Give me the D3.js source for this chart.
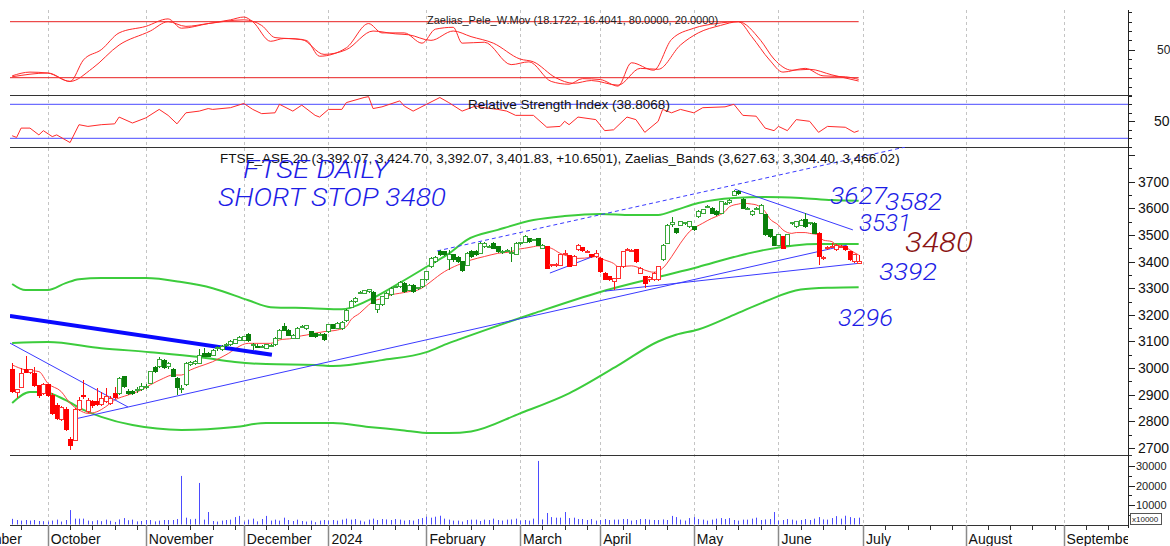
<!DOCTYPE html>
<html>
<head>
<meta charset="utf-8">
<script src="https://cdn.jsdelivr.net/npm/d3@7"></script>
<style>
  body { margin: 0; background: #fff; }
  svg { display: block; font-family: "Liberation Sans", Arial, sans-serif; }
</style>
</head>
<body>
<svg id="chart" width="1170" height="546"></svg>
<script>
// daily candles, [open, high, low, close], index 0 = first trading day shown
var ohlc = [
  [2995,3018,2905,2914],[2909,2920,2886,2920],[2928,2999,2925,2980],[2995,3045,2980,2983],[2983,2998,2978,2993],
  [2980,3005,2928,2933],[2933,2935,2886,2899],[2905,2945,2900,2939],[2937,2940,2893,2899],[2899,2905,2825,2830],
  [2861,2868,2805,2811],[2808,2858,2800,2851],[2846,2855,2765,2770],[2733,2740,2693,2711],[2730,2850,2725,2843],
  [2843,2890,2838,2880],[2899,2955,2885,2893],[2836,2888,2830,2880],[2876,2880,2850,2858],[2876,2924,2858,2862],
  [2862,2912,2858,2886],[2874,2924,2870,2893],[2868,2895,2862,2886],[2903,2930,2885,2890],[2903,2965,2900,2962],
  [2968,2972,2925,2930],[2911,2920,2900,2905],[2914,2918,2898,2903],[2916,2930,2905,2920],[2918,2943,2915,2930],
  [2928,2940,2922,2932],[2943,2990,2940,2987],[3003,3008,2982,2987],[3005,3040,3000,3033],[3028,3035,2998,3003],
  [3005,3022,2998,3018],[2995,3000,2965,2970],[2962,2965,2899,2928],[2920,2935,2905,2925],[2937,3022,2933,3018],
  [3013,3025,3008,3020],[3018,3030,3012,3024],[3018,3070,3015,3049],[3055,3075,3040,3045],[3055,3060,3040,3043],
  [3049,3072,3045,3068],
  [3072,3082,3066,3076],[3070,3085,3066,3080],[3086,3095,3080,3088],[3087,3104,3084,3099],[3093,3110,3090,3106],
  [3103,3120,3100,3116],[3103,3122,3100,3118],[3128,3130,3098,3103],[3086,3093,3068,3087],[3083,3090,3075,3081],
  [3080,3088,3076,3082],[3074,3090,3070,3087],[3083,3092,3078,3085],[3087,3115,3084,3112],[3112,3146,3108,3143],
  [3156,3168,3140,3143],[3143,3148,3120,3124],[3112,3128,3108,3124],[3112,3155,3108,3150],[3155,3162,3150,3157],
  [3147,3163,3143,3159],[3137,3140,3115,3120],[3130,3133,3114,3118],[3126,3132,3122,3128],[3127,3130,3102,3106],
  [3137,3166,3133,3162],[3162,3166,3145,3149],[3149,3172,3145,3168],[3147,3176,3143,3172],[3178,3222,3175,3218],
  [3228,3254,3224,3250],[3250,3266,3246,3262],[3282,3288,3278,3284],[3281,3295,3278,3291],[3286,3298,3282,3294],
  [3283,3290,3240,3243],[3221,3240,3206,3237],[3237,3272,3233,3268],[3262,3285,3258,3281],[3275,3304,3271,3300],
  [3303,3310,3300,3306],[3306,3326,3302,3322],[3318,3322,3283,3287],[3293,3316,3289,3312],[3312,3316,3283,3287],
  [3298,3306,3294,3302],[3306,3335,3302,3331],[3331,3366,3327,3362],
  [3381,3418,3375,3412],[3400,3420,3395,3416],[3437,3445,3420,3425],[3437,3440,3420,3425],[3406,3444,3368,3425],
  [3425,3430,3400,3406],[3416,3420,3395,3400],[3400,3404,3362,3368],[3387,3435,3383,3431],[3437,3442,3415,3419],
  [3437,3442,3420,3425],[3431,3473,3427,3469],[3456,3473,3452,3469],[3455,3462,3450,3458],[3469,3473,3446,3450],
  [3456,3460,3433,3437],[3436,3444,3430,3438],[3440,3448,3435,3442],[3433,3456,3400,3435],[3428,3473,3424,3469],
  [3468,3474,3464,3470],[3471,3500,3468,3496],[3487,3490,3471,3475],[3480,3486,3476,3482],[3487,3490,3458,3462],
  [3450,3466,3446,3462],[3456,3460,3371,3375],[3386,3392,3380,3388],[3385,3395,3380,3390],[3387,3430,3383,3425],
  [3430,3445,3426,3432],[3421,3425,3379,3383],[3387,3423,3383,3419],[3444,3466,3440,3462],[3452,3456,3437,3441],
  [3436,3442,3432,3438],[3425,3428,3415,3419],[3419,3444,3415,3431],[3412,3416,3358,3362],[3356,3360,3329,3333],
  [3343,3346,3327,3331],[3325,3338,3293,3335],[3337,3385,3333,3381],[3381,3441,3377,3437],[3444,3452,3440,3447],
  [3440,3447,3436,3442],[3444,3448,3396,3400],[3356,3379,3352,3375],
  [3343,3347,3300,3318],[3331,3345,3325,3340],[3331,3360,3327,3356],[3331,3385,3327,3381],[3406,3466,3402,3462],
  [3469,3541,3465,3537],[3540,3569,3531,3545],[3525,3528,3504,3508],[3537,3554,3533,3550],[3543,3550,3538,3545],
  [3531,3554,3527,3550],[3531,3535,3515,3519],[3569,3592,3565,3588],[3581,3598,3577,3594],[3605,3612,3600,3607],
  [3600,3604,3577,3581],[3588,3592,3571,3575],[3581,3629,3577,3625],[3617,3625,3612,3620],[3621,3635,3617,3631],
  [3650,3668,3646,3662],[3665,3670,3650,3654],[3634,3637,3596,3600],[3598,3606,3592,3601],[3575,3592,3571,3588],
  [3599,3606,3594,3601],[3581,3616,3577,3612],[3575,3578,3496,3500],[3519,3522,3490,3494],[3494,3497,3458,3462],
  [3462,3504,3458,3500],[3494,3497,3446,3450],[3462,3504,3458,3500],[3543,3550,3538,3546],[3531,3554,3527,3550],
  [3537,3560,3533,3556],[3558,3581,3527,3531],[3543,3550,3538,3545],[3544,3548,3502,3506],[3506,3510,3387,3418],
  [3410,3420,3405,3414],[3448,3458,3443,3452],[3455,3470,3450,3458],[3444,3466,3440,3462],[3455,3463,3450,3458],
  [3456,3460,3440,3444],[3437,3440,3402,3406],[3400,3428,3396,3425],[3392.07,3424.70,3392.07,3401.83]
];

// stretches of candles drawn in red (signal below), the rest are green
var redRuns = [[0, 23], [120, 145], [173, 173], [181, 190]];

// volume, in the panel's units (axis labelled x10000)
var volume = [
  2900,2300,2000,2300,2000,2300,1800,1700,
  1500,2000,2500,1500,2300,7400,3000,3000,3000,2000,1700,2200,1700,2500,1900,1300,2600,3300,2200,2500,1600,1800,
  2300,2300,1600,2000,2300,2300,2300,2800,24900,3500,2700,2900,21300,2500,6400,1800,1500,2000,2300,2500,3800,4400,
  1500,2500,3000,1600,2800,4400,2000,2500,2000,3500,2300,1800,2500,1800,1500,2000,1200,2000,2300,
  2000,2300,2000,2500,3000,2500,2800,2000,1500,2500,3000,2300,2800,2600,2300,2800,2500,2000,2300,2000,2800,3300,
  4000,3500,4000,4500,3000,2500,2000,2000,1500,2300,2500,2500,1800,2500,2300,3000,2300,2000,2500,2600,3000,
  2000,2300,2000,3000,32600,2600,5900,3800,3500,3500,6400,3300,3500,2800,2800,2300,2800,2000,
  2300,2800,2300,2500,2500,2800,2800,2000,2300,2800,2800,2500,2300,2300,2600,2300,4400,3800,2500,2000,3300,
  3800,2800,2500,2000,2500,3000,3300,2800,3300,2300,2000,2500,2500,3000,3500,2300,2600,2800,6400,
  2000,2300,2800,2500,2000,2300,2800,2300,3000,3800,2600,2500,3300,4300,3000,4500,3800,3300,3500
];

// red moving average on price, [index, value]
var maLine = [
  [0,3012],[3,2993],[6,2987],[8,2943],[11,2912],[13,2868],[15,2843],[17,2830],[19,2836],[21,2855],[23,2880],
  [26,2899],[29,2918],[31,2937],[34,2962],[36,2974],[38,2974],[40,2993],[42,3006],[45,3024],[48,3050],[53,3093],
  [58,3093],[60,3106],[63,3112],[64,3118],[66,3124],[68,3131],[70,3137],[73,3143],[75,3156],[76,3181],[78,3206],
  [80,3237],[81,3250],[83,3262],[85,3275],[87,3281],[89,3287],[91,3293],[93,3312],[94,3325],[97,3362],[100,3387],
  [103,3406],[106,3419],[109,3431],[112,3437],[113,3444],[115,3450],[117,3456],[118,3459],[121,3450],[123,3431],
  [125,3419],[127,3412],[130,3416],[131,3419],[133,3406],[135,3393],[136,3381],[139,3384],[140,3381],[142,3368],
  [144,3360],[146,3375],[148,3418],[150,3469],[152,3512],[155,3544],[157,3562],[158,3569],[160,3588],[161,3606],
  [163,3616],[164,3619],[166,3616],[167,3613],[169,3588],[170,3562],[172,3537],[173,3519],[175,3506],[176,3509],
  [178,3509],[179,3506],[181,3500],[182,3481],[184,3475],[185,3462],[187,3456],[188,3444],[190,3425]
];

// Zaelias bands
var upperBand = [
  [0,3316],[3,3293],[8,3293],[12,3319],[15,3334],[20,3338],[30,3338],[38,3323],[45,3300],[53,3255],[58,3229],
  [67,3225],[74,3221],[80,3255],[87,3320],[94,3390],[98,3430],[102,3481],[109,3519],[117,3556],[124,3571],
  [132,3579],[139,3575],[145,3575],[149,3594],[154,3620],[162,3639],[169,3643],[177,3639],[184,3631],[190,3628]
];
var midBand = [
  [0,3094],[8,3098],[20,3075],[31,3060],[42,3042],[50,3023],[57,3015],[68,3012],[72,3008],[83,3030],[93,3060],
  [98,3094],[100,3106],[117,3205],[132,3286],[145,3342],[154,3380],[162,3417],[169,3444],[181,3466],[190,3466]
];
var lowerBand = [
  [0,2869],[4,2910],[7,2910],[12,2880],[16,2843],[20,2817],[27,2786],[38,2768],[50,2779],[57,2794],[72,2794],
  [80,2779],[87,2768],[94,2756],[98,2756],[103,2762],[114,2830],[125,2905],[136,3010],[145,3100],[149,3125],
  [154,3145],[162,3200],[169,3250],[177,3295],[184,3302],[190,3304]
];

// Zaelias_Pele_W.Mov, two lines
var peleFast = [
  [0,22],[4,26],[8,25],[13,16],[16,39],[20,50],[24,68],[30,75],[35,83],[38,73],[44,78],[49,82],[52,85],[54,80],
  [58,59],[61,62],[66,60],[69,43],[75,52],[80,78],[83,68],[88,68],[92,57],[95,72],[99,74],[101,57],[106,58],
  [112,34],[116,37],[121,16],[125,13],[128,19],[132,18],[136,11],[139,36],[144,28],[148,61],[153,73],[158,78],
  [163,80],[166,64],[170,39],[173,26],[178,30],[182,22],[187,21],[190,18.17]
];
var peleSlow = [
  [0,21],[8,25],[13,16],[18,30],[24,55],[31,70],[35,80],[39,75],[44,78],[52,82],[56,76],[59,63],[65,61],[70,45],
  [75,50],[81,70],[86,67],[89,66],[94,60],[99,70],[103,64],[108,57],[114,40],[117,37],[122,20],[126,14],[130,17],
  [136,12],[141,30],[145,29],[150,55],[154,68],[159,76],[163,80],[168,60],[171,40],[175,28],[179,29],[184,23],
  [190,16.4]
];
var peleLevels = [80, 20];

// relative strength index
var rsi = [
  [0,33],[1,31],[2,42],[4,42],[6,34],[7,39],[9,32],[10,34],[13,25],[15,46],[17,44],[20,46],[23,47],[24,55],
  [27,48],[30,54],[33,64],[35,57],[37,47],[39,60],[42,62],[44,65],[45,64],[49,66],[52,71],[54,64],[56,59],
  [59,60],[60,70],[63,62],[65,69],[68,57],[69,55],[71,64],[74,64],[75,72],[79,78],[80,79],[81,65],[83,67],
  [87,74],[88,68],[90,62],[93,70],[96,78],[98,72],[101,62],[104,68],[106,66],[109,64],[111,62],[113,57],
  [117,57],[120,43],[123,44],[124,50],[125,46],[127,55],[131,52],[133,39],[135,40],[138,55],[140,52],[142,37],
  [145,50],[146,64],[148,60],[150,64],[153,60],[155,66],[160,67],[162,70],[164,57],[167,56],[169,42],[171,39],
  [172,44],[174,39],[176,52],[179,50],[181,37],[183,44],[187,43],[189,37],[190,38.81]
];
var rsiLevels = [70, 30];

// hand drawn trend lines, [index, price] end points
var drawnLines = [
  { a: [-0.5, 3196], b: [58.3, 3050], kind: 'thick' },
  { a: [-0.5, 3094], b: [26, 2854], kind: 'thin' },
  { a: [14.1, 2809], b: [187.4, 3462], kind: 'thin' },
  { a: [133, 3289], b: [190.3, 3394], kind: 'thin' },
  { a: [120.7, 3357], b: [131.3, 3425], kind: 'thin' },
  { a: [162.2, 3672], b: [188.7, 3519], kind: 'thin' },
  { a: [95.4, 3440], b: [200.4, 3830], kind: 'dashed' }
];

// month axis: first trading-day index of each month
var monthNames = ['September', 'October', 'November', 'December', '2024', 'February', 'March',
  'April', 'May', 'June', 'July', 'August', 'September'];
var monthStarts = [-13, 8, 30, 52, 71, 93, 114, 132, 153, 172, 191, 214, 236];

var priceTicks = d3.range(2700, 3801, 50);
var volumeTicks = d3.range(5000, 30001, 5000);

var L = 10, R = 1128;
var svg = d3.select('#chart');

var x = d3.scaleLinear().domain([8, 236]).range([47.8, 1063.6]);
var yPele = d3.scaleLinear().domain([20, 80]).range([77.7, 21.7]);
var yRsi = d3.scaleLinear().domain([30, 70]).range([138.3, 104.3]);
var yMain = d3.scaleLinear().domain([2700, 3700]).range([448, 181.7]);
var yVol = d3.scaleLinear().domain([0, 30000]).range([524.5, 466]);

var panels = {
  pele: [8, 95],
  rsi: [95, 147],
  main: [147, 455],
  vol: [455, 525]
};

var defs = svg.append('defs');
Object.keys(panels).forEach(function(k) {
  defs.append('clipPath').attr('id', 'clip-' + k)
    .append('rect')
    .attr('x', L).attr('y', panels[k][0])
    .attr('width', R - L).attr('height', panels[k][1] - panels[k][0]);
});

// vertical month grid
svg.append('g').selectAll('line')
  .data(monthStarts.slice(1))
  .join('line')
  .attr('x1', function(d) { return Math.round(x(d)) + 0.5; })
  .attr('x2', function(d) { return Math.round(x(d)) + 0.5; })
  .attr('y1', 10).attr('y2', 525)
  .attr('stroke', '#c4c4c4')
  .attr('stroke-dasharray', '3,3');

// panel separators and right axis line
svg.append('g').selectAll('line')
  .data([95, 147, 455])
  .join('line')
  .attr('x1', L).attr('x2', R + 4)
  .attr('y1', function(d) { return d + 0.5; })
  .attr('y2', function(d) { return d + 0.5; })
  .attr('stroke', '#333');

svg.append('line')
  .attr('x1', R + 0.5).attr('x2', R + 0.5)
  .attr('y1', 10).attr('y2', 528)
  .attr('stroke', '#222');

// ---- Pele panel
var gPele = svg.append('g').attr('clip-path', 'url(#clip-pele)');

gPele.selectAll('line.level')
  .data(peleLevels)
  .join('line')
  .attr('class', 'level')
  .attr('x1', L).attr('x2', x(190))
  .attr('y1', function(d) { return yPele(d); })
  .attr('y2', function(d) { return yPele(d); })
  .attr('stroke', '#e82020');

var peleLine = d3.line()
  .x(function(d) { return x(d[0]); })
  .y(function(d) { return yPele(d[1]); })
  .curve(d3.curveMonotoneX);

[peleSlow, peleFast].forEach(function(s) {
  gPele.append('path')
    .attr('d', peleLine(s))
    .attr('fill', 'none')
    .attr('stroke', '#ff2a2a')
    .attr('stroke-width', 1);
});

svg.append('text')
  .attr('x', 427).attr('y', 24)
  .attr('font-size', 11)
  .attr('fill', '#222')
  .text('Zaelias_Pele_W.Mov (18.1722, 16.4041, 80.0000, 20.0000)');

// ---- RSI panel
var gRsi = svg.append('g').attr('clip-path', 'url(#clip-rsi)');

gRsi.selectAll('line.level')
  .data(rsiLevels)
  .join('line')
  .attr('class', 'level')
  .attr('x1', L).attr('x2', R)
  .attr('y1', function(d) { return yRsi(d); })
  .attr('y2', function(d) { return yRsi(d); })
  .attr('stroke', '#4a4aff');

gRsi.append('path')
  .attr('d', d3.line()
    .x(function(d) { return x(d[0]); })
    .y(function(d) { return yRsi(d[1]); })(rsi))
  .attr('fill', 'none')
  .attr('stroke', '#ff2a2a');

svg.append('text')
  .attr('x', 468).attr('y', 109)
  .attr('font-size', 13.5)
  .attr('fill', '#111')
  .text('Relative Strength Index (38.8068)');

// ---- main price panel
var gMain = svg.append('g').attr('clip-path', 'url(#clip-main)');

var smooth = function(scale) {
  return d3.line()
    .x(function(d) { return x(d[0]); })
    .y(function(d) { return scale(d[1]); })
    .curve(d3.curveMonotoneX);
};

[upperBand, midBand, lowerBand].forEach(function(b) {
  gMain.append('path')
    .attr('d', smooth(yMain)(b))
    .attr('fill', 'none')
    .attr('stroke', '#3ccc3c')
    .attr('stroke-width', 2);
});

gMain.append('path')
  .attr('d', smooth(yMain)(maLine))
  .attr('fill', 'none')
  .attr('stroke', '#ff4040')
  .attr('stroke-width', 1);

// drawn trend lines
gMain.selectAll('line.trend')
  .data(drawnLines)
  .join('line')
  .attr('class', 'trend')
  .attr('x1', function(d) { return x(d.a[0]); })
  .attr('y1', function(d) { return yMain(d.a[1]); })
  .attr('x2', function(d) { return x(d.b[0]); })
  .attr('y2', function(d) { return yMain(d.b[1]); })
  .attr('stroke', function(d) { return d.kind === 'thick' ? '#0a0aff' : '#3a3aff'; })
  .attr('stroke-width', function(d) { return d.kind === 'thick' ? 4 : 1; })
  .attr('stroke-dasharray', function(d) { return d.kind === 'dashed' ? '4,3' : null; });

// candles
var isRed = function(i) {
  return redRuns.some(function(r) { return i >= r[0] && i <= r[1]; });
};

var candle = gMain.selectAll('g.candle')
  .data(ohlc)
  .join('g')
  .attr('class', 'candle')
  .attr('shape-rendering', 'crispEdges');

candle.append('line')
  .attr('x1', function(d, i) { return Math.round(x(i)) + 0.5; })
  .attr('x2', function(d, i) { return Math.round(x(i)) + 0.5; })
  .attr('y1', function(d) { return yMain(d[1]); })
  .attr('y2', function(d) { return yMain(d[2]); })
  .attr('stroke', function(d, i) { return isRed(i) ? '#ff1010' : '#118a11'; });

candle.append('rect')
  .attr('x', function(d, i) { return Math.round(x(i)) - 1.5; })
  .attr('width', 4)
  .attr('y', function(d) { return yMain(Math.max(d[0], d[3])); })
  .attr('height', function(d) { return Math.max(1, Math.abs(yMain(d[0]) - yMain(d[3]))); })
  .attr('fill', function(d, i) {
    if (d[3] >= d[0]) return '#fff';
    return isRed(i) ? '#ff0000' : '#0a7f0a';
  })
  .attr('stroke', function(d, i) {
    if (d[3] >= d[0]) return isRed(i) ? '#ff3030' : '#3aa83a';
    return isRed(i) ? '#ff0000' : '#0a7f0a';
  });

svg.append('text')
  .attr('x', 220).attr('y', 163)
  .attr('font-size', 13.5)
  .attr('fill', '#111')
  .text('FTSE_ASE 20 (3,392.07, 3,424.70, 3,392.07, 3,401.83, +10.6501), Zaelias_Bands (3,627.63, 3,304.40, 3,466.02)');

// handwritten notes
var hand = svg.append('g')
  .attr('font-family', 'Roboto, Inter, "Open Sans", sans-serif')
  .attr('font-style', 'italic')
  .attr('font-weight', 300);

var note = function(txt, px, py, size, len, colour) {
  hand.append('text')
    .attr('x', px).attr('y', py)
    .attr('font-size', size)
    .attr('textLength', len)
    .attr('lengthAdjust', 'spacingAndGlyphs')
    .attr('fill', colour)
    .text(txt);
};

note('FTSE DAILY', 243, 178, 25, 146, '#1c1ce6');
note('SHORT STOP 3480', 218, 206, 25, 228, '#1c1ce6');
note('3627', 830, 204, 24, 57, '#1c1ce6');
note('3582', 885, 210, 24, 57, '#1c1ce6');
note('3531', 859, 231, 24, 52, '#1c1ce6');
note('3480', 905, 252, 27, 68, '#8a1414');
note('3392', 879, 280, 24, 58, '#1c1ce6');
note('3296', 838, 326, 24, 55, '#1c1ce6');

// ---- volume panel
var gVol = svg.append('g').attr('clip-path', 'url(#clip-vol)');

gVol.selectAll('line.vol')
  .data(volume)
  .join('line')
  .attr('class', 'vol')
  .attr('x1', function(d, i) { return Math.round(x(i)) + 0.5; })
  .attr('x2', function(d, i) { return Math.round(x(i)) + 0.5; })
  .attr('y1', yVol(0))
  .attr('y2', function(d) { return yVol(d); })
  .attr('stroke', '#4b4bff')
  .attr('stroke-width', 1);

// ---- right axis ticks and labels
var axisG = svg.append('g').attr('stroke', '#222');

var ticks = function(values, scale, majorTest) {
  axisG.append('g').selectAll('line')
    .data(values)
    .join('line')
    .attr('x1', R)
    .attr('x2', function(d) { return majorTest(d) ? R + 7 : R + 4; })
    .attr('y1', function(d) { return Math.round(scale(d)) + 0.5; })
    .attr('y2', function(d) { return Math.round(scale(d)) + 0.5; });
};

ticks(d3.range(10, 91, 10), yPele, function(d) { return d === 50; });
ticks(d3.range(20, 81, 10), yRsi, function(d) { return d === 50; });
ticks(priceTicks, yMain, function(d) { return d % 100 === 0; });
ticks(volumeTicks, yVol, function(d) { return d % 10000 === 0; });

svg.append('text')
  .attr('x', 1157).attr('y', yPele(50) + 4)
  .attr('font-size', 12).attr('fill', '#222')
  .text('50');

svg.append('text')
  .attr('x', 1154).attr('y', yRsi(50) + 5)
  .attr('font-size', 14).attr('fill', '#111')
  .text('50');

svg.append('g').selectAll('text')
  .data(priceTicks.filter(function(d) { return d % 100 === 0 && d <= 3700; }))
  .join('text')
  .attr('x', 1138)
  .attr('y', function(d) { return yMain(d) + 5; })
  .attr('font-size', 14)
  .attr('fill', '#111')
  .text(function(d) { return d; });

svg.append('g').selectAll('text')
  .data(volumeTicks.filter(function(d) { return d % 10000 === 0; }))
  .join('text')
  .attr('x', 1136)
  .attr('y', function(d) { return yVol(d) + 4; })
  .attr('font-size', 11)
  .attr('fill', '#222')
  .text(function(d) { return d; });

svg.append('rect')
  .attr('x', 1130.5).attr('y', 513.5)
  .attr('width', 31).attr('height', 11)
  .attr('fill', '#fff')
  .attr('stroke', '#555');

svg.append('text')
  .attr('x', 1132).attr('y', 522)
  .attr('font-size', 8).attr('fill', '#222')
  .text('x10000');

// ---- bottom time axis
svg.append('line')
  .attr('x1', L).attr('x2', R)
  .attr('y1', 525.5).attr('y2', 525.5)
  .attr('stroke', '#333');

var weekTicks = [];
monthStarts.forEach(function(s, k) {
  var end = k < monthStarts.length - 1 ? monthStarts[k + 1] : 256;
  for (var t = s + 5; t < end - 1; t += 5) weekTicks.push(t);
});

svg.append('g').selectAll('line')
  .data(weekTicks.filter(function(d) { return x(d) > L && x(d) < R; }))
  .join('line')
  .attr('x1', function(d) { return Math.round(x(d)) + 0.5; })
  .attr('x2', function(d) { return Math.round(x(d)) + 0.5; })
  .attr('y1', 525).attr('y2', 530)
  .attr('stroke', '#333');

svg.append('g').selectAll('line')
  .data(monthStarts.slice(1))
  .join('line')
  .attr('x1', function(d) { return Math.round(x(d)) + 0.5; })
  .attr('x2', function(d) { return Math.round(x(d)) + 0.5; })
  .attr('y1', 525).attr('y2', 546)
  .attr('stroke', '#8a8a8a')
  .attr('stroke-width', 1.5);

defs.append('clipPath').attr('id', 'clip-xlab')
  .append('rect').attr('x', 0).attr('y', 528).attr('width', R).attr('height', 18);

// the first, cut-off label ends just before the October line
svg.append('g')
  .attr('clip-path', 'url(#clip-xlab)')
  .selectAll('text')
  .data(monthStarts)
  .join('text')
  .attr('x', function(d, k) { return k === 0 ? x(monthStarts[1]) - 26 : x(d) + 3; })
  .attr('text-anchor', function(d, k) { return k === 0 ? 'end' : 'start'; })
  .attr('y', 544)
  .attr('font-size', 14)
  .attr('fill', '#111')
  .text(function(d, k) { return monthNames[k]; });
</script>
</body>
</html>
